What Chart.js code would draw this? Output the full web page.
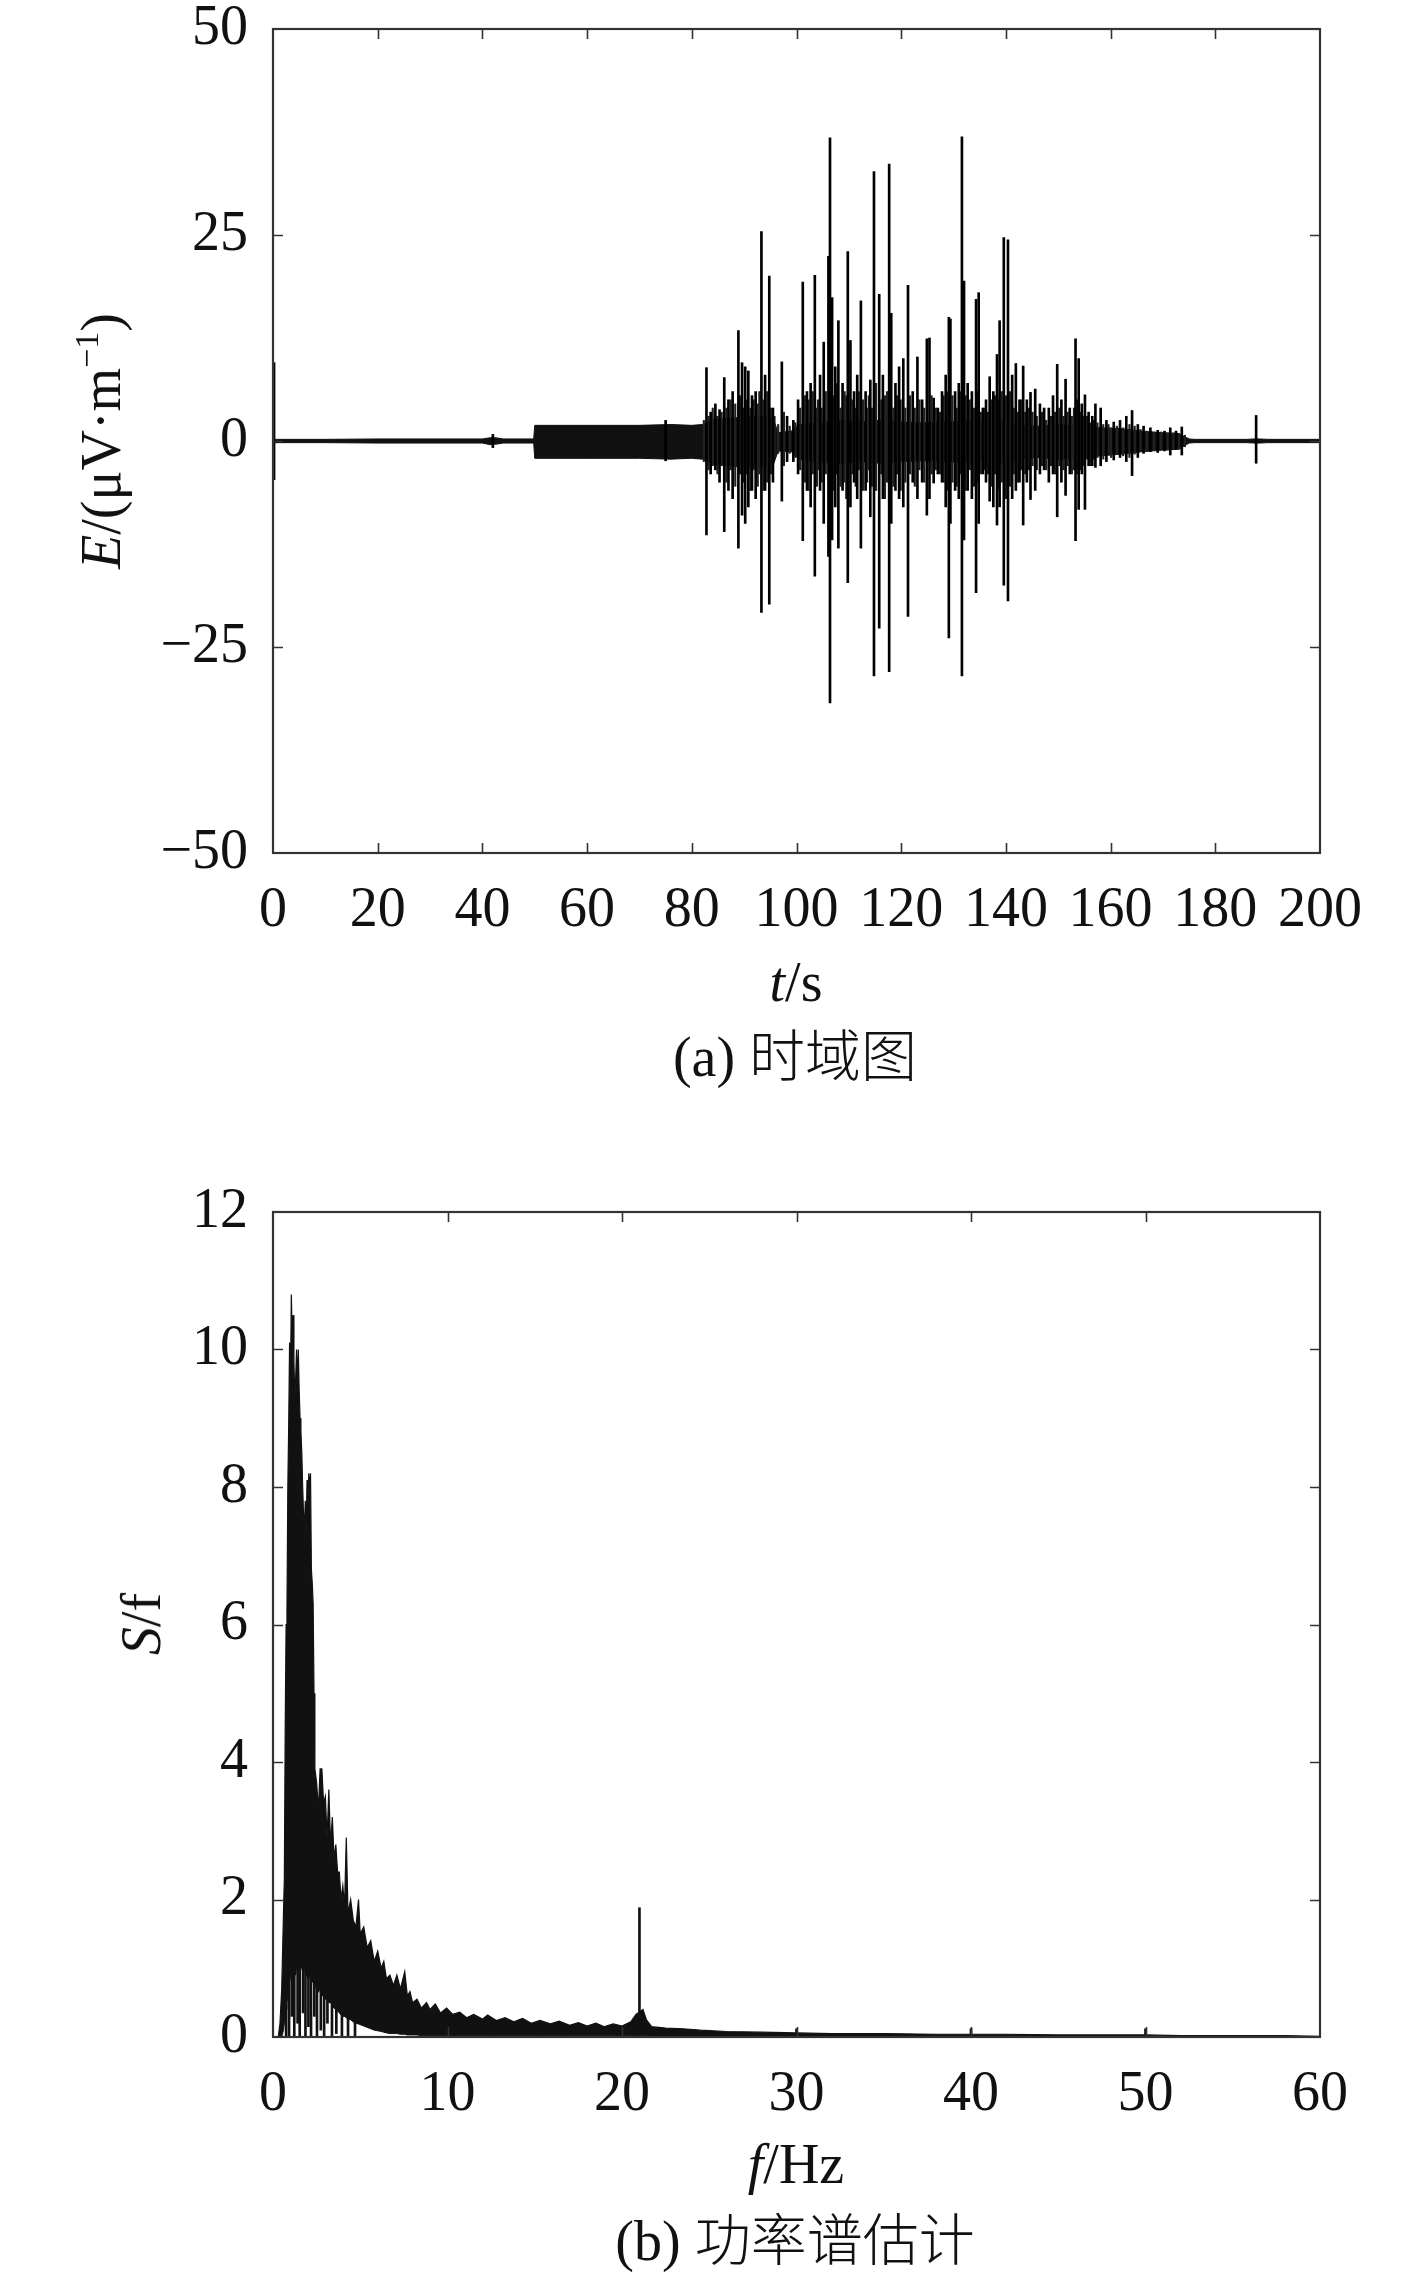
<!DOCTYPE html>
<html>
<head>
<meta charset="utf-8">
<script src="https://cdn.jsdelivr.net/npm/chart.js@4.4.1/dist/chart.umd.min.js"></script>
<style>
body { margin: 0; background: #fff; }
#wrap { position: relative; width: 1417px; height: 2275px; }
canvas { position: absolute; left: 0; }
.lbl {
    position: absolute;
    transform: translate(-50%, -50%);
    font-family: 'Liberation Serif', 'Times New Roman', serif;
    font-size: 56px;
    line-height: 1;
    color: #111;
    white-space: nowrap;
}
.rot { transform: translate(-50%, -50%) rotate(-90deg); }
.lbl sup { font-size: 34px; vertical-align: 22px; line-height: 0; }
.cjk { font-family: 'Noto Sans CJK SC', sans-serif; font-weight: 300; }
</style>
</head>
<body>
<div id="wrap">
    <canvas id="chartTime" width="1417" height="1100" style="top:0"></canvas>
    <canvas id="chartSpec" width="1417" height="1175" style="top:1100px"></canvas>

    <div class="lbl rot" style="left:101px;top:441px"><i>E</i>/(μV·m<sup>−1</sup>)</div>
    <div class="lbl" style="left:796px;top:982px"><i>t</i>/s</div>
    <div class="lbl" style="left:795px;top:1054px">(a) <span class="cjk">时域图</span></div>

    <div class="lbl rot" style="left:141px;top:1624px"><i>S</i>/f</div>
    <div class="lbl" style="left:796px;top:2164px"><i>f</i>/Hz</div>
    <div class="lbl" style="left:795px;top:2238px">(b) <span class="cjk">功率谱估计</span></div>
</div>
<script>
"use strict";
// (a) time domain: background envelope of the signal
var envT  = [0, 0.3, 1, 10, 20, 30, 40, 41.5, 42.5, 44, 49.8, 50, 60, 70, 76, 80, 82, 84, 88, 92, 95.5, 96.5, 99, 100.5, 104, 108, 112, 116, 120, 124, 128, 132, 136, 140, 142, 146, 150, 154, 158, 162, 166, 170, 173, 175, 176, 186, 187.5, 188.5, 190, 200];
var envHi = [0.2, 0.2, 0.2, 0.2, 0.25, 0.25, 0.25, 0.4, 0.4, 0.25, 0.25, 1.9, 1.9, 1.9, 2.0, 1.9, 2.0, 2.6, 2.8, 3.0, 2.8, 1.0, 1.2, 2.0, 2.2, 2.5, 2.3, 2.5, 2.3, 2.2, 2.3, 2.4, 2.2, 2.5, 2.0, 1.8, 2.0, 1.8, 1.6, 1.5, 1.2, 1.0, 0.9, 0.25, 0.2, 0.2, 0.25, 0.25, 0.2, 0.2];
var envLo = [-0.2, -0.2, -0.2, -0.2, -0.25, -0.25, -0.25, -0.45, -0.4, -0.25, -0.25, -2.1, -2.1, -2.1, -2.2, -2.1, -2.2, -2.8, -3.1, -3.2, -3.0, -1.2, -1.3, -2.2, -2.5, -2.8, -2.5, -2.7, -2.5, -2.4, -2.5, -2.6, -2.4, -2.7, -2.2, -2.0, -2.2, -2.0, -1.8, -1.6, -1.3, -1.1, -1.0, -0.25, -0.2, -0.2, -0.25, -0.25, -0.2, -0.2];

// (a) time domain: the large spikes, from low to high
var spikeT  = [0.2, 42, 75, 82.8, 83.6, 84.5, 85.3, 86.2, 87.0, 87.8, 88.9, 89.6, 90.2, 90.8, 91.5, 92.2, 93.3, 94.0, 94.8, 95.5,
    97.2, 98.2, 99.4, 100.3, 101.2, 102.0, 102.7, 103.5, 104.5, 105.2, 106.1, 106.4, 106.8, 107.4, 108.0, 108.8, 109.8, 110.3, 111.0, 111.6,
    112.3, 113.2, 114.1, 114.8, 115.8, 116.5, 117.7, 118.1, 118.9, 119.6, 120.4, 121.3, 122.2, 123.1, 124.0, 124.9, 125.4, 126.2, 127.0, 127.8,
    128.5, 129.1, 129.4, 130.3, 131.0, 131.6, 132.0, 132.7, 133.5, 134.3, 134.8, 135.6, 136.2, 136.9, 137.6, 138.3, 138.8, 139.6, 140.4, 141.2,
    141.9, 142.6, 143.3, 144.0, 144.7, 145.6, 146.5, 147.3, 148.2, 149.0, 149.8, 150.6, 151.4, 152.2, 153.3, 153.9, 154.5, 155.1, 155.8, 156.5,
    157.1, 158.1, 159.2, 160.6, 161.8, 163.0, 164.1, 165.2, 166.3, 167.6, 169.0, 170.3, 171.4, 172.5, 173.6, 187.8];
var spikeLo = [-4.7, -0.8, -2.4, -11.4, -4, -3.5, -5, -11, -6, -7, -13, -9, -10, -8, -6, -7, -20.8, -6, -19.8, -5,
    -7.3, -2.5, -2.5, -4, -12.1, -6, -8, -16.4, -6, -10, -14, -31.8, -12, -8, -13, -6, -17.2, -8, -5, -7,
    -13, -6, -9.2, -28.5, -22.7, -7, -28, -10, -6, -7, -8, -21.3, -5, -7, -5, -9, -7, -5.1, -4, -5,
    -8, -23.9, -10, -6, -7, -28.5, -12, -6, -7, -18.4, -10, -4, -5, -7.3, -8, -10.2, -8, -17.5, -19.4, -7,
    -6, -5, -10.2, -5, -7.1, -6, -4, -3.5, -5, -4, -9.2, -5, -6.6, -4, -12.1, -8.3, -4, -8.3, -3, -3,
    -3.2, -3, -2.5, -2.3, -2.0, -2.5, -4.2, -2, -1.5, -1.3, -1.4, -1.2, -1.7, -1.0, -1.7, -2.7];
var spikeHi = [9.5, 0.8, 2.5, 8.9, 3.5, 4.5, 3.8, 7.7, 5, 6, 13.4, 9.5, 9, 8.5, 5.5, 6, 25.4, 8, 20, 4,
    9.6, 3, 2.5, 5, 19.3, 6, 7, 20.1, 8, 12, 22.4, 36.8, 17.4, 9, 14.6, 7, 23, 12.2, 6, 8,
    17, 6, 7.4, 32.7, 17.8, 8, 33.6, 15.5, 7, 9, 10, 18.9, 6, 10.2, 5, 12.4, 12.5, 5.2, 4, 6,
    8, 15, 14.8, 6, 7, 36.9, 19.4, 7, 6, 17.2, 18, 4, 5, 7.8, 6, 10.5, 14.6, 24.7, 24.4, 8,
    9.4, 5, 9.1, 5, 5.9, 6.3, 4.5, 4, 4, 5.5, 9.3, 5, 7.5, 4, 12.4, 10, 4.5, 5.6, 3.5, 3,
    4.5, 4, 2.5, 2.3, 2.5, 3, 3.7, 2, 1.8, 1.6, 1.3, 1.2, 1.6, 1.2, 1.7, 3.1];

// (a) time domain: the smaller oscillations packed between the spikes
var midT  = [82.3, 83.2, 84.0, 84.9, 85.7, 86.6, 87.4, 88.3, 89.2, 89.9, 90.5, 91.2, 91.8, 92.6, 92.9, 93.7, 94.4, 95.1, 95.8,
    96.5, 97.6, 98.7, 99.8, 100.7, 101.6, 102.3, 103.1, 103.9, 104.1, 104.8, 105.6, 107.1, 107.7, 108.4, 109.2, 109.5, 110.7, 111.3, 111.9,
    112.7, 113.5, 113.8, 114.4, 115.2, 116.2, 116.9, 117.3, 118.5, 119.2, 119.9, 120.8, 121.7, 122.6, 123.5, 124.4, 125.8, 126.6, 127.4, 128.1,
    128.8, 129.8, 130.6, 131.3, 132.3, 133.1, 133.9, 134.6, 135.2, 135.9, 136.6, 137.2, 137.9, 138.6, 139.2, 140.0, 140.8, 141.5, 142.3, 142.9,
    143.7, 144.4, 145.1, 145.9, 146.9, 147.7, 148.6, 149.4, 150.2, 151.0, 151.8, 152.6, 153.0, 153.6, 154.2, 154.8, 155.5, 156.1, 156.8, 157.5,
    158.6, 159.6, 160.1, 161.2, 162.4, 163.6, 164.6, 165.7, 166.9, 168.3, 169.6, 170.9, 172.0, 173.1, 174.2];
var midLo = [-2.5, -3.5, -3, -4, -3, -5, -3.5, -5.5, -4, -5, -4, -6, -3.5, -5.5, -4, -6, -5, -4, -2,
    -1.5, -3, -1.5, -2, -3.5, -5, -6, -4, -5.5, -3.5, -5, -4, -6, -4, -5.5, -5, -7, -4, -5.5, -3.5,
    -6, -5, -3.5, -5.5, -6, -4, -7, -5, -5.5, -4, -6, -5, -4, -5.5, -3.5, -5, -4, -3.5, -4, -5,
    -6, -5, -5.5, -4, -6, -3.5, -5.5, -5, -4, -3.5, -4, -5.5, -4, -6, -5, -7, -5.5, -4, -5, -3.5,
    -4, -3.5, -3, -3.5, -3, -3.5, -3, -4, -3, -3.5, -3, -4, -3.5, -4, -3.5, -3, -2.2, -3, -2.2, -2,
    -2.2, -1.6, -2, -1.6, -1.8, -2, -1.6, -1.3, -1.2, -1.1, -1.0, -1.1, -0.9, -1.0, -0.7];
var midHi = [2.5, 3, 4, 3, 3.5, 4, 5, 4.5, 5.5, 4, 5, 4, 5, 4.5, 6, 5, 6, 4, 3,
    2, 3.5, 1.8, 2.2, 4, 5.5, 5, 6, 4, 5, 4, 6, 5.5, 7, 4, 6, 5.5, 5, 4, 6,
    5, 4, 5.5, 4, 7, 5, 5.5, 6, 4, 5.5, 5, 4, 5.5, 4, 5, 4, 5.5, 4, 3.5, 5.5,
    6, 5.5, 4, 6, 5.5, 5, 4, 6, 3.5, 4, 3.5, 5, 5.5, 5, 6, 5.5, 6, 4, 3.5, 5,
    3.5, 4, 3.5, 3, 3.5, 2.5, 3, 3.5, 4, 3, 3.5, 3, 4, 5, 3.5, 3, 3, 2.2, 2.5, 2.2,
    2, 2, 1.6, 1.8, 1.6, 2, 1.8, 1.4, 1.2, 1.0, 1.1, 1.0, 1.0, 0.9, 0.7];

var timeTicksX = [0, 20, 40, 60, 80, 100, 120, 140, 160, 180, 200];
var timeTicksY = [-50, -25, 0, 25, 50];

// (b) power spectrum: upper and lower edge of the black area
var specF  = [0, 0.3, 0.4, 0.5, 0.6, 0.65, 0.7, 0.75, 0.8, 0.85, 0.9, 0.95, 1.0, 1.05, 1.1, 1.15, 1.2, 1.25, 1.3, 1.35,
    1.4, 1.45, 1.5, 1.55, 1.6, 1.65, 1.7, 1.75, 1.8, 1.85, 1.9, 1.95, 2.0, 2.05, 2.1, 2.15, 2.2, 2.25, 2.3, 2.35,
    2.4, 2.5, 2.6, 2.7, 2.8, 2.9, 3.0, 3.1, 3.2, 3.3, 3.4, 3.5, 3.6, 3.7, 3.8, 3.9, 4.0, 4.1, 4.2, 4.3,
    4.45, 4.6, 4.75, 4.9, 5.0, 5.2, 5.4, 5.6, 5.8, 6.0, 6.2, 6.35, 6.5, 6.7, 6.9, 7.1, 7.3, 7.55, 7.7, 7.85,
    8.0, 8.25, 8.5, 8.8, 9.0, 9.3, 9.6, 9.95, 10.3, 10.7, 11.1, 11.5, 12.0, 12.3, 12.8, 13.3, 13.8, 14.3, 14.8, 15.3,
    15.9, 16.4, 17.0, 17.5, 18.0, 18.5, 19.0, 19.5, 20.0, 20.5, 20.8, 21.2, 21.4, 21.7, 22.5, 23.5, 24.5, 26, 28, 30,
    32, 35, 38, 40, 42, 45, 48, 50, 52, 55, 58, 60];
var specHi = [0, 0, 0.2, 0.7, 1.8, 2.3, 4.5, 6.0, 6.2, 8.0, 8.9, 10.1, 9.5, 10.8, 10.2, 10.5, 9.8, 9.3, 9.6, 10.0,
    9.5, 10.0, 9.4, 9.0, 8.8, 8.5, 8.0, 7.6, 7.4, 7.8, 7.3, 8.1, 7.8, 8.2, 8.0, 8.2, 6.8, 6.6, 6.3, 5.0,
    3.9, 3.7, 3.3, 3.9, 3.9, 3.4, 3.5, 2.9, 3.6, 2.8, 3.2, 2.6, 2.8, 2.4, 2.4, 2.0, 2.2, 1.9, 2.9, 1.8,
    2.0, 1.7, 1.6, 2.0, 1.5, 1.6, 1.3, 1.4, 1.1, 1.25, 1.0, 1.1, 0.85, 0.9, 0.75, 0.9, 0.7, 0.95, 0.6, 0.66,
    0.5, 0.55, 0.42, 0.5, 0.4, 0.48, 0.35, 0.42, 0.33, 0.36, 0.28, 0.33, 0.26, 0.32, 0.24, 0.28, 0.22, 0.27, 0.2, 0.24,
    0.19, 0.23, 0.17, 0.21, 0.16, 0.2, 0.15, 0.19, 0.16, 0.22, 0.33, 0.4, 0.25, 0.15, 0.13, 0.12, 0.1, 0.08, 0.07, 0.06,
    0.05, 0.05, 0.04, 0.04, 0.04, 0.03, 0.03, 0.03, 0.02, 0.02, 0.02, 0.01];
var specLo = [0, 0, 0, 0, 0.1, 0.2, 0.3, 0.4, 0.5, 0.6, 0.7, 0.8, 0.9, 0.85, 0.8, 0.9, 1.0, 0.95, 0.9, 1.0,
    1.1, 1.05, 1.0, 1.0, 1.05, 1.0, 0.95, 1.0, 1.0, 0.95, 0.9, 0.9, 0.85, 0.85, 0.9, 0.85, 0.8, 0.8, 0.8, 0.75,
    0.75, 0.7, 0.65, 0.7, 0.6, 0.6, 0.55, 0.55, 0.5, 0.5, 0.45, 0.42, 0.4, 0.38, 0.35, 0.32, 0.3, 0.3, 0.28, 0.26,
    0.25, 0.22, 0.2, 0.19, 0.18, 0.16, 0.14, 0.12, 0.1, 0.09, 0.08, 0.07, 0.06, 0.05, 0.05, 0.05, 0.04, 0.04, 0.03, 0.03,
    0.03, 0.03, 0.02, 0.02, 0.02, 0.02, 0.02, 0.02, 0.02, 0.02, 0.02, 0.02, 0.02, 0.02, 0.02, 0.02, 0.02, 0.02, 0.02, 0.02,
    0.02, 0.02, 0.02, 0.02, 0.02, 0.02, 0.02, 0.02, 0.02, 0.02, 0.02, 0.02, 0.02, 0.01, 0.01, 0.01, 0.01, 0.01, 0.01, 0.01,
    0.01, 0.01, 0.01, 0.01, 0.01, 0.01, 0.0, 0.0, 0.0, 0.0, 0.0, 0.0];

// (b) narrow lines: strands down to the base and the 21 Hz peak
var lineF  = [0.75, 0.92, 1.08, 1.22, 1.41, 1.53, 1.72, 1.86, 2.03, 2.18, 2.37, 2.52, 2.74, 2.93, 3.12, 3.38, 3.63, 3.95, 4.3, 4.7,
    21.0, 30, 40, 50];
var lineLo = [0, 0, 0.3, 0, 0.2, 0, 0.35, 0, 0.15, 0, 0.3, 0, 0.1, 0, 0.2, 0, 0.05, 0, 0, 0,
    0, 0, 0, 0];
var lineHi = [0.6, 0.9, 1.0, 1.1, 1.2, 1.1, 1.1, 1.0, 1.0, 0.9, 0.9, 0.8, 0.8, 0.7, 0.6, 0.5, 0.45, 0.4, 0.35, 0.3,
    1.88, 0.12, 0.12, 0.12];

var specTicksX = [0, 10, 20, 30, 40, 50, 60];
var specTicksY = [0, 2, 4, 6, 8, 10, 12];

var serif = "'Liberation Serif', 'Times New Roman', serif";

//frame all round and short ticks pointing inwards
var frameTicks = {
    id: 'frameTicks',
    afterDraw: function(chart) {
        var ctx = chart.ctx;
        var a = chart.chartArea;
        var x = chart.scales.x;
        var y = chart.scales.y;
        ctx.save();
        ctx.strokeStyle = '#333';
        ctx.lineWidth = 1.6;
        ctx.beginPath();
        x.ticks.forEach(function(t) {
            if (t.value <= x.min || t.value >= x.max) return;
            var px = Math.round(x.getPixelForValue(t.value)) + 0.5;
            ctx.moveTo(px, a.bottom); ctx.lineTo(px, a.bottom - 10);
            ctx.moveTo(px, a.top); ctx.lineTo(px, a.top + 10);
        });
        y.ticks.forEach(function(t) {
            if (t.value <= y.min || t.value >= y.max) return;
            var py = Math.round(y.getPixelForValue(t.value)) + 0.5;
            ctx.moveTo(a.left, py); ctx.lineTo(a.left + 10, py);
            ctx.moveTo(a.right, py); ctx.lineTo(a.right - 10, py);
        });
        ctx.stroke();
        ctx.lineWidth = 2.2;
        ctx.strokeRect(a.left, a.top, a.right - a.left, a.bottom - a.top);
        ctx.restore();
    }
};

function xy(xs, ys) {
    return xs.map(function(v, i) { return {x: v, y: ys[i]}; });
}
function floating(xs, lo, hi) {
    return xs.map(function(v, i) { return {x: v, y: [lo[i], hi[i]]}; });
}
function minus(v) {
    return v < 0 ? '\u2212' + Math.abs(v) : String(v);
}

function axes(xTicks, yTicks, xHeight) {
    return {
        x: {
            type: 'linear', min: xTicks[0], max: xTicks[xTicks.length - 1], offset: false,
            afterBuildTicks: function(s) { s.ticks = xTicks.map(function(v) { return {value: v}; }); },
            afterFit: function(s) { s.height = xHeight; s.paddingLeft = 0; s.paddingRight = 0; },
            grid: {display: false}, border: {display: false},
            ticks: {autoSkip: false, maxRotation: 0, padding: 22, color: '#111',
                font: {family: serif, size: 56, lineHeight: 1}}
        },
        y: {
            type: 'linear', min: yTicks[0], max: yTicks[yTicks.length - 1],
            afterBuildTicks: function(s) { s.ticks = yTicks.map(function(v) { return {value: v}; }); },
            afterFit: function(s) { s.width = 273; s.paddingTop = 0; s.paddingBottom = 0; },
            grid: {display: false}, border: {display: false},
            ticks: {autoSkip: false, padding: 17, color: '#111', callback: minus,
                font: {family: serif, size: 56, lineHeight: 1}}
        }
    };
}

var common = {
    responsive: false,
    animation: false,
    devicePixelRatio: 1,
    plugins: {legend: {display: false}, tooltip: {enabled: false}}
};

function bars(data, color, thick) {
    return {type: 'bar', data: data, backgroundColor: color, borderWidth: 0, barThickness: thick, grouped: false};
}

let chartTime = new Chart(document.getElementById('chartTime').getContext('2d'), {
    type: 'line',
    data: {
        datasets: [
            bars(floating(spikeT, spikeLo, spikeHi), '#000', 2),
            bars(floating(midT, midLo, midHi), '#222', 1.5),
            {
                data: xy(envT, envLo),
                borderColor: '#111', borderWidth: 1, pointRadius: 0, tension: 0, fill: false
            }, {
                data: xy(envT, envHi),
                borderColor: '#111', borderWidth: 1, pointRadius: 0, tension: 0,
                fill: '-1', backgroundColor: '#111'
            }
        ]
    },
    options: Object.assign({}, common, {
        layout: {padding: {top: 29, right: 97, left: 0, bottom: 0}},
        scales: axes(timeTicksX, timeTicksY, 247)
    }),
    plugins: [frameTicks]
});

let chartSpec = new Chart(document.getElementById('chartSpec').getContext('2d'), {
    type: 'line',
    data: {
        datasets: [
            bars(floating(lineF, lineLo, lineHi), '#111', 2),
            {
                data: xy(specF, specLo),
                borderColor: '#111', borderWidth: 1, pointRadius: 0, tension: 0, fill: false
            }, {
                data: xy(specF, specHi),
                borderColor: '#111', borderWidth: 1.2, pointRadius: 0, tension: 0,
                fill: '-1', backgroundColor: '#111'
            }
        ]
    },
    options: Object.assign({}, common, {
        layout: {padding: {top: 112, right: 97, left: 0, bottom: 0}},
        scales: axes(specTicksX, specTicksY, 238)
    }),
    plugins: [frameTicks]
});
</script>
</body>
</html>
